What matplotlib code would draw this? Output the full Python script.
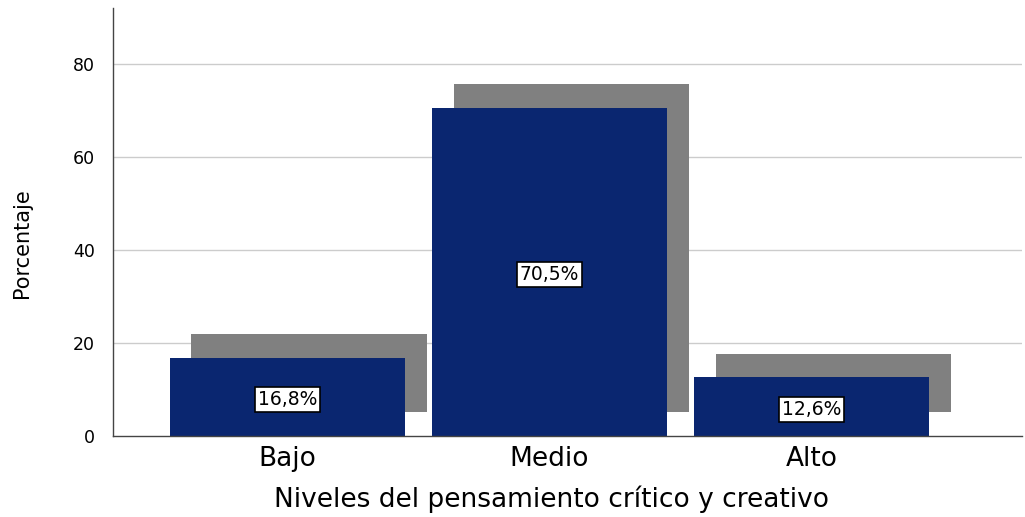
import matplotlib
matplotlib.use("Agg")
import matplotlib.pyplot as plt
import numpy as np

categories = ["Bajo", "Medio", "Alto"]
percentages = [16.8, 70.5, 12.6]
bar_labels = ["16,8%", "70,5%", "12,6%"]
y_ticks = [0, 20, 40, 60, 80]

blue = "#0a2670"
shadow = "#808080"
grid_c = "#cccccc"

fig = plt.figure(figsize=(10.25, 5.17), dpi=100)
ax = fig.add_axes([113/1025, 1 - 436/517, (1022-113)/1025, (436-8)/517])

x = np.arange(len(categories))
width = 0.897
dx = 0.082   # shadow shift (data units, x)
dy = 5.1     # shadow shift (data units, y)

ax.bar(x + dx, percentages, width=width, bottom=dy, color=shadow, zorder=1, linewidth=0)
ax.bar(x, percentages, width=width, color=blue, zorder=2, linewidth=0)

for xi, v, lab in zip(x, percentages, bar_labels):
    ax.text(xi, v / 2 - 0.6, lab, ha="center", va="center", fontsize=13.5,
            family="DejaVu Sans", color="black", zorder=4,
            bbox=dict(boxstyle="square,pad=0.15", fc="white", ec="black", lw=1.2))

ax.set_xlim(-0.666, 2.803)
ax.set_ylim(0, 92)
ax.set_yticks(y_ticks)
ax.set_yticklabels([str(t) for t in y_ticks], fontsize=12.5, family="DejaVu Sans")
ax.set_xticks(x)
ax.set_xticklabels(categories, fontsize=19, family="DejaVu Sans")
ax.tick_params(axis="y", length=0, pad=13)
ax.tick_params(axis="x", length=0, pad=7)

for t in y_ticks[1:]:
    ax.axhline(t, color=grid_c, lw=1.0, zorder=0)

for s in ["top", "right"]:
    ax.spines[s].set_visible(False)
for s in ["left", "bottom"]:
    ax.spines[s].set_color("#444444")
    ax.spines[s].set_linewidth(1.0)

ax.set_xlabel("Niveles del pensamiento crítico y creativo", fontsize=19, family="DejaVu Sans")
ax.xaxis.set_label_coords((551 - 113) / 909, -0.115)
ax.set_ylabel("Porcentaje", fontsize=15, family="DejaVu Sans")
ax.yaxis.set_label_coords(-0.089, 0.45)

fig.savefig("out.png", dpi=100)
